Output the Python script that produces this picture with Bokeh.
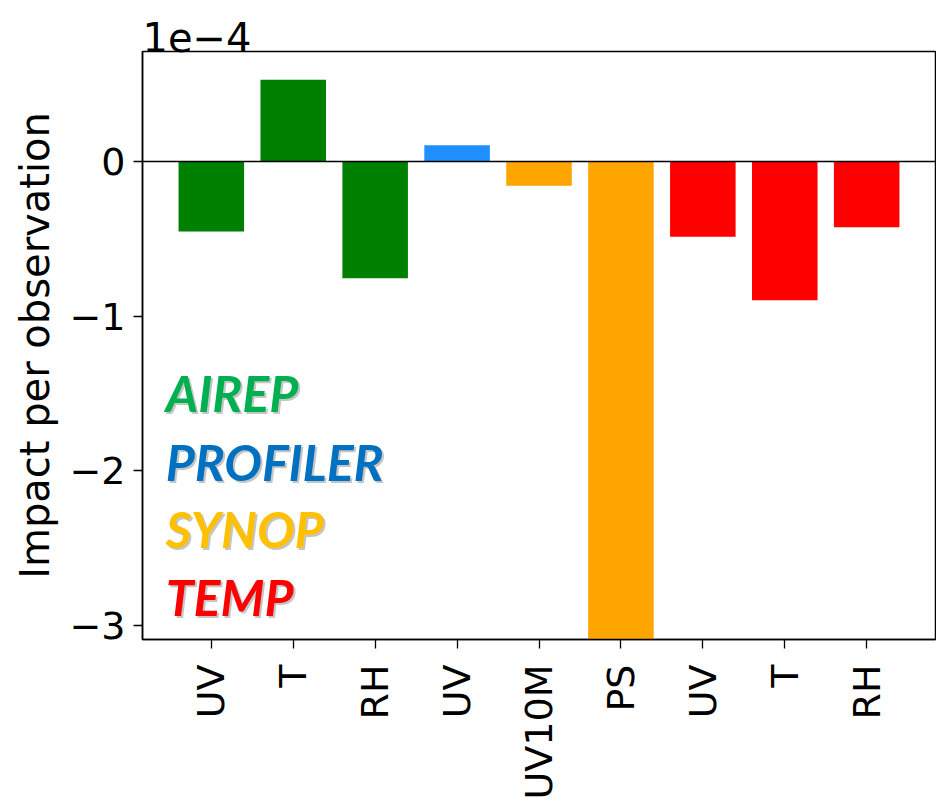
import math
from bokeh.plotting import figure
from bokeh.models import Range1d, FixedTicker, Label, Span
from bokeh.embed import file_html
from bokeh.resources import INLINE

# ---- data (values in units of 1e-4) ----
categories = ["UV", "T", "RH", "UV", "UV10M", "PS", "UV", "T", "RH"]
impact = [-0.452, 0.530, -0.755, 0.105, -0.157, -3.5, -0.486, -0.898, -0.426]
bar_colors = ["#008000", "#008000", "#008000", "#1E90FF", "#FFA500",
              "#FFA500", "#FF0000", "#FF0000", "#FF0000"]
y_ticks = [-3, -2, -1, 0]
y_tick_labels = ["\u22123", "\u22122", "\u22121", "0"]
groups = ["AIREP", "PROFILER", "SYNOP", "TEMP"]
group_colors = ["#00B050", "#0070C0", "#FFC000", "#FF0000"]
group_y = [-1.50, -1.945, -2.38, -2.82]

x_pos = list(range(len(categories)))

p = figure(width=936, height=802, output_backend="svg", toolbar_location=None,
           x_range=Range1d(-0.84, 8.84), y_range=Range1d(-3.093, 0.712),
           min_border_left=142, min_border_top=51, min_border_bottom=159,
           min_border_right=1)
p.background_fill_color = "white"
p.border_fill_color = "white"
p.outline_line_color = "black"
p.outline_line_width = 1.5
p.grid.visible = False

# offset text shown as the title
p.title.text = "1e\u22124"
p.title.text_font = "DejaVu Sans"
p.title.text_font_size = "40px"
p.title.text_font_style = "normal"
p.title.text_color = "black"
p.title.align = "left"
p.title.standoff = 0
p.title.vertical_align = "bottom"

p.vbar(x=x_pos, top=impact, bottom=0, width=0.8, fill_color=bar_colors,
       line_color=None)
p.add_layout(Span(location=0, dimension="width", line_color="black",
                  line_width=1.5))

# x axis
p.xaxis.ticker = FixedTicker(ticks=x_pos)
p.xaxis.major_label_overrides = {i: c for i, c in enumerate(categories)}
p.xaxis.major_label_orientation = math.pi / 2
p.xaxis.major_label_text_font = "DejaVu Sans"
p.xaxis.major_label_text_font_size = "38px"
p.xaxis.major_label_text_color = "black"
p.xaxis.major_label_standoff = 16
p.xaxis.minor_tick_line_color = None
p.xaxis.major_tick_in = 0
p.xaxis.major_tick_out = 9
p.xaxis.major_tick_line_width = 1.3
p.xaxis.axis_line_width = 1.5
p.xaxis.axis_line_color = "black"

# y axis
p.yaxis.ticker = FixedTicker(ticks=y_ticks)
p.yaxis.major_label_overrides = {t: l for t, l in zip(y_ticks, y_tick_labels)}
p.yaxis.major_label_text_font = "DejaVu Sans"
p.yaxis.major_label_text_font_size = "38px"
p.yaxis.major_label_text_color = "black"
p.yaxis.major_label_standoff = 8
p.yaxis.minor_tick_line_color = None
p.yaxis.major_tick_in = 0
p.yaxis.major_tick_out = 9
p.yaxis.major_tick_line_width = 1.3
p.yaxis.axis_line_width = 1.5
p.yaxis.axis_line_color = "black"
p.yaxis.axis_label = "Impact per observation"
p.yaxis.axis_label_text_font = "DejaVu Sans"
p.yaxis.axis_label_text_font_size = "40px"
p.yaxis.axis_label_text_font_style = "normal"
p.yaxis.axis_label_text_color = "black"
p.yaxis.axis_label_standoff = 8

# group labels with soft shadow
for name, col, yy in zip(groups, group_colors, group_y):
    p.add_layout(Label(x=-0.556, y=yy, x_offset=2, y_offset=-2, text=name,
                       text_font="Lato", text_font_size="50px",
                       text_font_style="bold italic", text_color="#7f7f7f",
                       text_alpha=0.45, text_baseline="middle",
                       text_align="left"))
    p.add_layout(Label(x=-0.556, y=yy, text=name,
                       text_font="Lato", text_font_size="50px",
                       text_font_style="bold italic", text_color=col,
                       text_baseline="middle", text_align="left"))

open("out.html", "w").write(file_html(p, INLINE))
